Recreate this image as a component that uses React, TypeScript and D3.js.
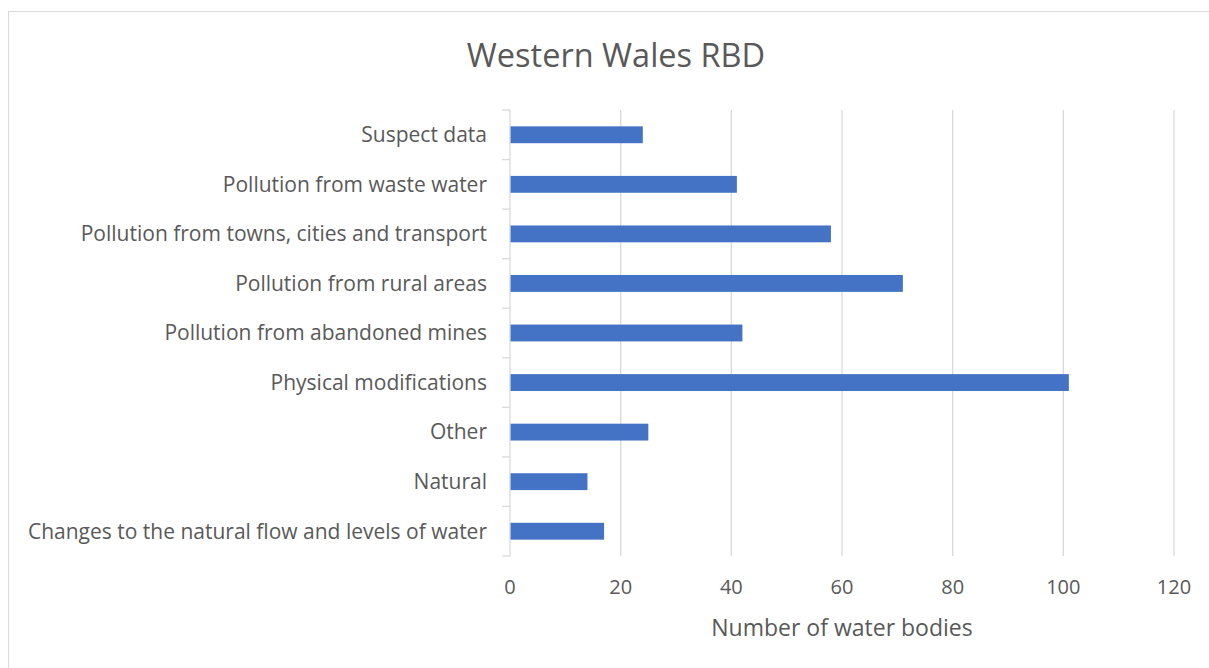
import React, { useEffect, useRef } from "react";
import * as d3 from "d3";

const categories = [
  "Suspect data",
  "Pollution from waste water",
  "Pollution from towns, cities and transport",
  "Pollution from rural areas",
  "Pollution from abandoned mines",
  "Physical modifications",
  "Other",
  "Natural",
  "Changes to the natural flow and levels of water",
];
const counts = [24, 41, 58, 71, 42, 101, 25, 14, 17];
const xTicks = [0, 20, 40, 60, 80, 100, 120];

const chartTitle = "Western Wales RBD";
const xTitle = "Number of water bodies";

export default function App() {
  const svgRef = useRef<SVGSVGElement>(null);

  useEffect(() => {
    const width = 1209;
    const height = 668;
    const left = 510;
    const right = 1174;
    const top = 110;
    const bottom = 556;
    const font = "'Open Sans', 'Liberation Sans', sans-serif";

    const svg = d3.select(svgRef.current).attr("width", width).attr("height", height);
    svg.selectAll("*").remove();

    svg.append("rect").attr("width", width).attr("height", height).attr("fill", "#fff");
    // chart frame (runs past the window on right/bottom)
    svg
      .append("rect")
      .attr("x", 8.5)
      .attr("y", 11.5)
      .attr("width", 1240)
      .attr("height", 700)
      .attr("fill", "none")
      .attr("stroke", "#d9d9d9");

    const x = d3.scaleLinear().domain([0, 120]).range([left, right]);
    const y = d3.scaleBand().domain(categories).range([top, bottom]).paddingInner(0.66).paddingOuter(0.33);

    // grid
    svg
      .append("g")
      .selectAll("line")
      .data(xTicks.slice(1))
      .join("line")
      .attr("x1", (d) => x(d))
      .attr("x2", (d) => x(d))
      .attr("y1", top)
      .attr("y2", bottom)
      .attr("stroke", "#d9d9d9")
      .attr("stroke-width", 1.3);

    // bars
    svg
      .append("g")
      .selectAll("rect")
      .data(categories)
      .join("rect")
      .attr("x", x(0))
      .attr("y", (d) => y(d)!)
      .attr("width", (d, i) => x(counts[i]) - x(0))
      .attr("height", y.bandwidth())
      .attr("fill", "#4472c4");

    // y axis line + ticks
    const step = (bottom - top) / categories.length;
    const yAxis = svg.append("g");
    yAxis
      .append("line")
      .attr("x1", left)
      .attr("x2", left)
      .attr("y1", top)
      .attr("y2", bottom)
      .attr("stroke", "#d9d9d9")
      .attr("stroke-width", 1.3);
    yAxis
      .selectAll("line.tick")
      .data(d3.range(categories.length + 1))
      .join("line")
      .attr("class", "tick")
      .attr("x1", left - 8)
      .attr("x2", left)
      .attr("y1", (i) => top + i * step)
      .attr("y2", (i) => top + i * step)
      .attr("stroke", "#d9d9d9")
      .attr("stroke-width", 1.3);

    yAxis
      .selectAll("text")
      .data(categories)
      .join("text")
      .attr("x", left - 23)
      .attr("y", (d) => y(d)! + y.bandwidth() / 2)
      .attr("dy", "0.35em")
      .attr("text-anchor", "end")
      .attr("font-family", font)
      .attr("font-size", 21)
      .attr("fill", "#595959")
      .text((d) => d);

    // x tick labels
    svg
      .append("g")
      .selectAll("text")
      .data(xTicks)
      .join("text")
      .attr("x", (d) => x(d))
      .attr("y", 594)
      .attr("text-anchor", "middle")
      .attr("font-family", font)
      .attr("font-size", 20)
      .attr("fill", "#595959")
      .text((d) => d);

    svg
      .append("text")
      .attr("x", (left + right) / 2)
      .attr("y", 636)
      .attr("text-anchor", "middle")
      .attr("font-family", font)
      .attr("font-size", 23)
      .attr("fill", "#595959")
      .text(xTitle);

    svg
      .append("text")
      .attr("x", 616)
      .attr("y", 67)
      .attr("text-anchor", "middle")
      .attr("font-family", font)
      .attr("font-size", 32.5)
      .attr("fill", "#595959")
      .text(chartTitle);
  }, []);

  return (
    <div style={{ position: "absolute", left: 0, top: 0 }}>
      <svg ref={svgRef} style={{ display: "block" }}></svg>
    </div>
  );
}
